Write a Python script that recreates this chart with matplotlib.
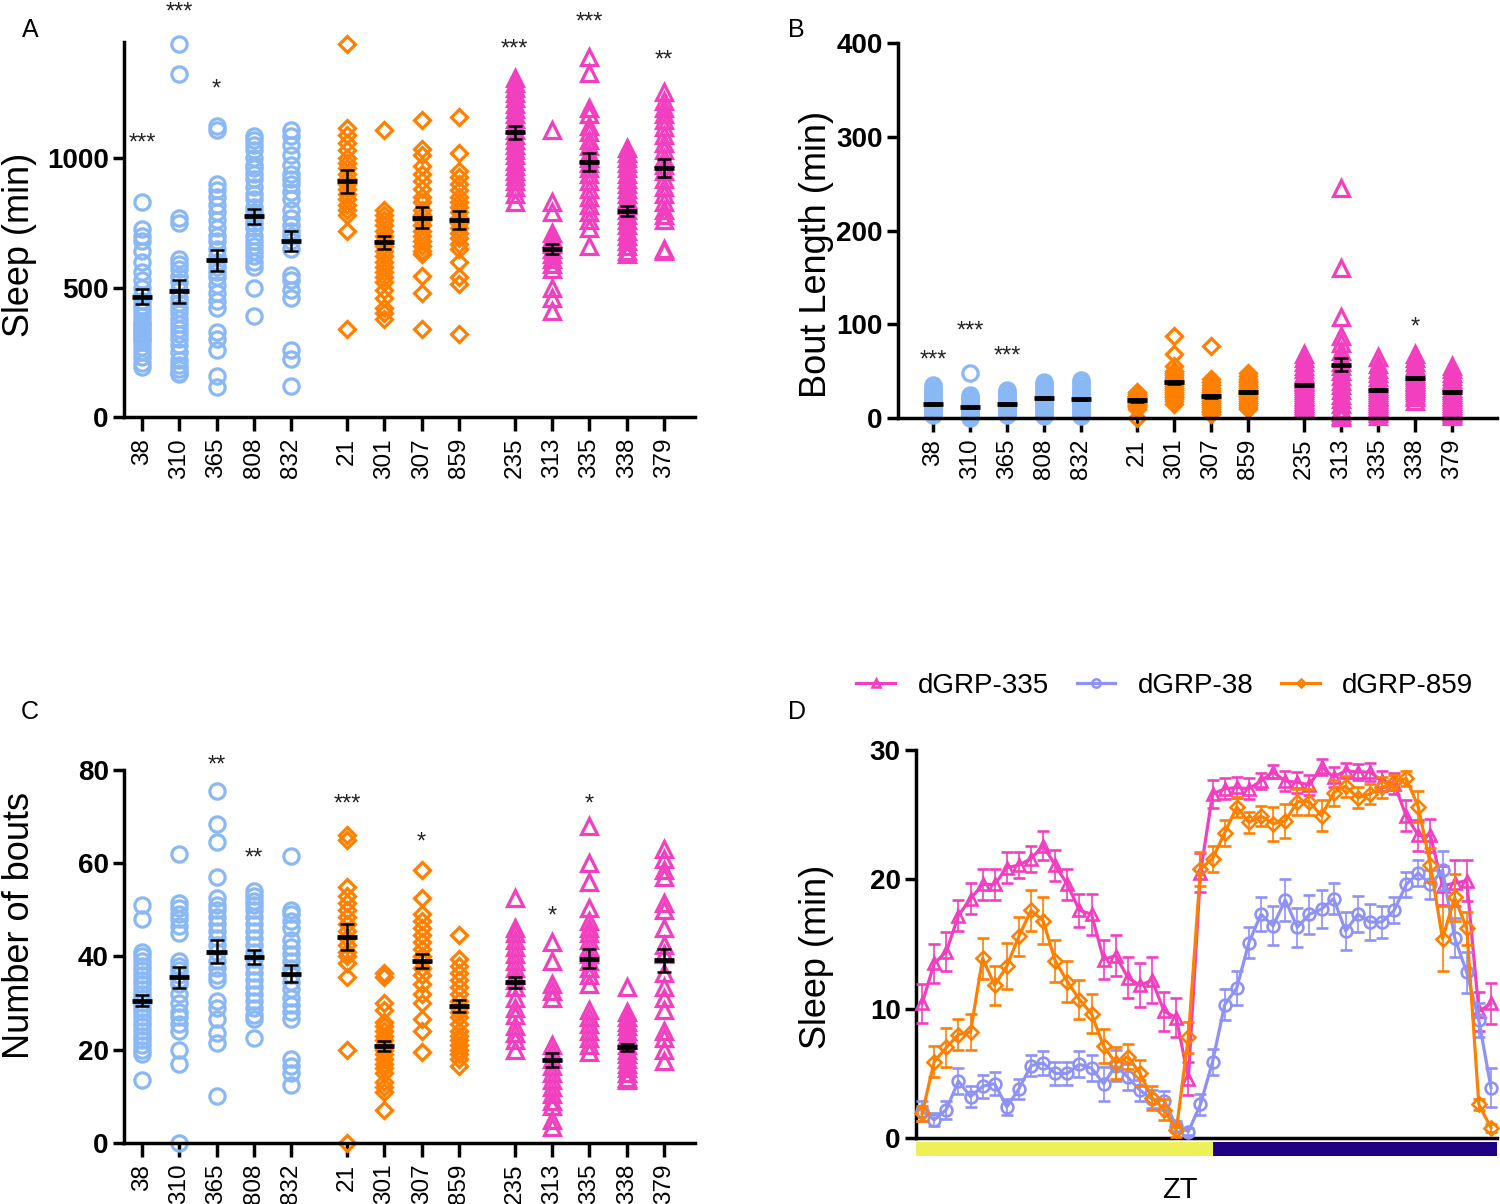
import matplotlib
matplotlib.use("Agg")
import matplotlib.pyplot as plt
import matplotlib.transforms as mtransforms
from matplotlib.lines import Line2D
from matplotlib.patches import Rectangle
import numpy as np

plt.rcParams['font.family'] = ['Liberation Sans', 'DejaVu Sans']

# ---- data ----
strains = ["38", "310", "365", "808", "832", "21", "301", "307", "859",
           "235", "313", "335", "338", "379"]
group_of = [0, 0, 0, 0, 0, 1, 1, 1, 1, 2, 2, 2, 2, 2]

# panel A : total sleep (min)
sleep_pts = [
    [830, 725, 700, 680, 640, 600, 560, 530, 500, 470, 450, 430, 410, 390, 370, 360, 350, 340, 330, 320, 310, 300, 290, 270, 250, 230, 210, 195],
    [1440, 1325, 770, 750, 610, 590, 570, 545, 520, 490, 460, 440, 420, 400, 380, 360, 340, 320, 300, 280, 250, 220, 200, 185, 170, 165],
    [1125, 1110, 900, 875, 850, 820, 790, 760, 730, 700, 680, 650, 620, 600, 580, 560, 540, 510, 480, 450, 420, 330, 300, 260, 160, 115],
    [1085, 1070, 1050, 1030, 1000, 975, 960, 940, 920, 890, 860, 840, 810, 790, 770, 750, 730, 700, 680, 660, 640, 620, 600, 580, 500, 390],
    [1110, 1085, 1050, 1010, 975, 940, 920, 900, 870, 840, 800, 770, 740, 720, 700, 680, 650, 550, 530, 490, 460, 260, 225, 120],
    [1440, 1115, 1090, 1060, 1030, 1000, 980, 960, 940, 920, 900, 880, 860, 840, 820, 800, 780, 720, 340],
    [1110, 800, 780, 760, 740, 720, 700, 680, 660, 640, 620, 600, 580, 560, 540, 520, 490, 460, 420, 400, 380],
    [1145, 1035, 1010, 970, 940, 910, 880, 850, 830, 800, 780, 760, 740, 720, 700, 680, 660, 640, 630, 545, 480, 340],
    [1160, 1020, 950, 925, 900, 875, 850, 830, 810, 790, 770, 750, 730, 710, 690, 670, 650, 600, 540, 515, 320],
    [1310, 1290, 1270, 1250, 1230, 1210, 1190, 1170, 1150, 1130, 1110, 1090, 1070, 1050, 1030, 1010, 990, 970, 950, 930, 910, 890, 860, 830],
    [1110, 830, 790, 710, 690, 670, 650, 630, 610, 590, 570, 500, 460, 410],
    [1390, 1330, 1195, 1170, 1125, 1100, 1070, 1045, 1020, 1000, 980, 960, 940, 910, 880, 850, 820, 790, 760, 730, 660],
    [1040, 1020, 1000, 980, 960, 940, 920, 900, 880, 860, 840, 820, 800, 780, 760, 740, 720, 700, 680, 660, 640, 630],
    [1255, 1220, 1195, 1170, 1145, 1120, 1090, 1060, 1030, 1000, 975, 950, 920, 890, 860, 830, 800, 780, 760, 650, 640],
]
sleep_mean = [465, 485, 605, 775, 680, 910, 675, 770, 760, 1100, 650, 985, 795, 960]
sleep_sem = [30, 45, 40, 30, 40, 45, 25, 40, 35, 25, 20, 35, 20, 35]
sleep_stars = {"38": ("***", 1055), "310": ("***", 1560), "365": ("*", 1265),
               "235": ("***", 1420), "335": ("***", 1525), "379": ("**", 1375)}

# panel B : bout length (min)
bout_pts = [
    [35, 32, 30, 28, 26, 24, 22, 20, 18, 17, 16, 15, 14, 13, 12, 11, 10, 9, 8, 7, 6, 5, 4, 3],
    [48, 25, 22, 20, 18, 16, 14, 13, 12, 11, 10, 9, 8, 7, 6, 5, 4, 3, 2, 0],
    [30, 28, 26, 24, 22, 20, 18, 17, 16, 15, 14, 13, 12, 11, 10, 9, 8, 7, 6, 5, 4, 3],
    [38, 36, 34, 32, 30, 28, 26, 24, 22, 21, 20, 19, 18, 17, 16, 15, 14, 12, 10, 8, 6, 4, 2],
    [41, 38, 35, 32, 30, 28, 26, 24, 22, 21, 20, 19, 18, 17, 16, 15, 14, 12, 10, 8, 6, 4, 2],
    [28, 26, 24, 23, 22, 21, 20, 19, 18, 17, 16, 15, 14, 13, 12, 10, 0],
    [87, 68, 55, 50, 48, 46, 44, 42, 40, 38, 36, 34, 32, 30, 28, 26, 24, 22, 20, 18, 15],
    [77, 42, 38, 35, 32, 30, 28, 26, 24, 22, 20, 18, 16, 14, 12, 10, 8, 6, 4],
    [48, 45, 42, 40, 38, 36, 34, 32, 30, 28, 26, 24, 22, 20, 18, 16, 14, 12, 10],
    [68, 64, 60, 56, 52, 48, 45, 42, 40, 38, 36, 34, 32, 30, 28, 26, 24, 22, 20, 18, 16, 14, 12],
    [245, 160, 108, 88, 80, 72, 65, 60, 55, 50, 45, 40, 35, 30, 25, 20, 15, 10, 6, 3, 1],
    [65, 58, 52, 48, 44, 40, 36, 34, 32, 30, 28, 26, 24, 22, 20, 18, 16, 14, 12, 10, 8, 5, 2],
    [68, 64, 60, 56, 52, 50, 48, 46, 44, 42, 40, 38, 36, 34, 32, 30, 28, 25, 22, 18],
    [55, 52, 48, 45, 42, 40, 38, 35, 32, 30, 28, 26, 24, 22, 20, 18, 16, 14, 12, 10, 8, 6, 4, 2],
]
bout_mean = [15, 12, 15, 21, 20, 19, 38, 23, 28, 35, 57, 30, 43, 28]
bout_sem = [1, 1, 1, 1, 1, 1.5, 2, 2, 1.2, 1, 7, 1.2, 1.2, 1]
bout_stars = {"38": ("***", 61), "310": ("***", 92), "365": ("***", 66), "338": ("*", 97)}

# panel C : number of bouts
nbout_pts = [
    [51, 48, 41, 40, 39, 38, 37, 36, 35, 34, 33, 32, 31, 30, 29, 28, 27, 26, 25, 24, 23, 22, 21, 20, 19, 13.5],
    [62, 51.5, 50.5, 49, 48, 46.5, 45, 39, 38, 37, 36, 35, 34, 32, 30, 28, 27, 25.5, 24, 20, 17, 0],
    [75.5, 68.5, 64.5, 57, 52.5, 51, 50, 48.5, 47, 45.5, 44, 42.5, 41, 39, 37.5, 36, 35, 30.5, 29, 26.5, 23.5, 21.5, 10],
    [54, 53, 52, 51, 50, 48.5, 47, 45.5, 44, 42.5, 41, 39.5, 38, 36.5, 35, 33.5, 32, 30.5, 29, 27.5, 26.5, 22.5],
    [61.5, 50, 49, 47.5, 46, 43.5, 42, 40.5, 39, 37.5, 36, 34.5, 33, 31, 29.5, 28, 26.5, 18, 16.5, 15, 12.5],
    [66, 65, 55, 53, 51.5, 50, 48.5, 47, 45.5, 44, 42.5, 41, 40, 38.5, 35.5, 20, 0],
    [36.5, 35.5, 30, 28.5, 26, 25, 24, 23, 22, 21, 20, 19, 18, 17, 16, 15, 13, 12, 11, 7],
    [58.5, 52.5, 49, 47.5, 46, 44.5, 43, 41.5, 40, 39, 37.5, 36, 34, 32, 30, 26.5, 24, 19.5],
    [44.5, 39.5, 38, 36.5, 35, 33.5, 32, 30.5, 29, 28, 27, 25.5, 24, 23, 22, 21, 20, 19, 18, 16.5],
    [52.5, 46, 45, 43.5, 42, 40.5, 39, 37.5, 36, 35, 33.5, 31, 29, 27.5, 25, 23.5, 22, 20],
    [43, 39, 34, 32.5, 31, 21, 19.5, 18, 16.5, 15, 13.5, 12, 10.5, 9, 8, 5, 3.5],
    [68, 60, 56, 50.5, 47.5, 46, 45, 43.5, 42, 40.5, 39, 37.5, 36, 34, 28.5, 27, 25.5, 24, 22.5, 21, 19.5],
    [33.5, 28, 27, 26, 25, 24, 23, 22, 21, 20, 19, 18, 17, 16, 15, 14, 13.5],
    [63, 61, 58.5, 57, 51.5, 50, 46, 42.5, 40.5, 36.5, 33.5, 31, 28.5, 24, 22.5, 20, 17.5],
]
nbout_mean = [30.5, 35.5, 41, 39.8, 36.3, 44.2, 20.8, 39, 29.3, 34.5, 17.8, 39.5, 20.5, 39.2]
nbout_sem = [1.2, 2.2, 2.5, 1.5, 1.8, 2.8, 1.0, 1.5, 1.3, 1.2, 1.5, 2.0, 0.8, 2.5]
nbout_stars = {"365": ("**", 81), "808": ("**", 61), "21": ("***", 72.5),
               "307": ("*", 64.5), "313": ("*", 48.5), "335": ("*", 72.5)}

# panel D : sleep profile, 30 min bins
zt = np.arange(0.25, 24, 0.5)
prof_335 = [10.4, 13.5, 14.4, 17.2, 18.5, 19.6, 19.6, 20.9, 21.1, 21.6, 22.6, 21.1, 19.6, 17.6, 17.3, 13.8,
            14.1, 12.4, 11.8, 12.2, 9.8, 9.3, 4.6, 20.5, 26.6, 27.0, 27.1, 27.0, 27.6, 28.3, 27.6, 27.5,
            27.3, 28.7, 27.9, 28.4, 28.3, 28.3, 27.6, 27.4, 24.9, 23.4, 23.4, 19.5, 19.7, 19.9, 9.8, 10.4]
sem_335 = [1.5, 1.5, 1.5, 1.2, 1.2, 1.2, 1.2, 1.2, 1.0, 1.0, 1.1, 1.2, 1.2, 1.3, 1.6, 1.5,
           1.6, 1.6, 1.7, 1.8, 1.5, 1.5, 1.3, 1.5, 1.1, 0.8, 0.8, 0.8, 0.6, 0.5, 0.8, 0.8,
           0.8, 0.6, 0.8, 0.6, 0.6, 0.7, 0.8, 0.8, 1.2, 1.2, 1.3, 1.5, 1.8, 1.6, 1.5, 1.6]
prof_38 = [2.1, 1.4, 2.2, 4.4, 3.2, 4.0, 4.2, 2.4, 3.8, 5.6, 5.8, 5.0, 5.0, 5.7, 5.4, 4.2,
           5.6, 4.7, 3.7, 3.0, 2.9, 0.9, 0.5, 2.6, 5.9, 10.3, 11.6, 15.1, 17.3, 16.4, 18.4, 16.3,
           17.3, 17.7, 18.5, 16.0, 17.3, 16.7, 16.7, 17.6, 19.6, 20.5, 19.6, 20.7, 15.5, 12.8, 9.1, 3.9]
sem_38 = [0.8, 0.5, 0.7, 1.0, 0.8, 0.9, 0.9, 0.6, 0.8, 0.8, 0.9, 0.9, 0.9, 1.0, 1.0, 1.3,
          1.2, 1.0, 0.8, 0.7, 0.7, 0.4, 0.3, 0.8, 1.0, 1.2, 1.3, 1.2, 1.3, 1.5, 1.6, 1.5,
          1.5, 1.5, 1.2, 1.5, 1.4, 1.4, 1.2, 1.0, 1.0, 1.0, 1.1, 1.5, 1.5, 1.6, 1.3, 1.5]
prof_859 = [1.9, 5.9, 7.0, 8.0, 8.2, 13.9, 11.8, 13.3, 15.6, 17.6, 16.8, 13.7, 12.1, 10.7, 9.6, 7.1,
            5.8, 6.3, 5.0, 3.1, 2.2, 0.6, 7.8, 20.8, 21.6, 23.6, 25.6, 24.4, 24.9, 24.3, 24.5, 26.0,
            26.0, 24.9, 26.7, 27.2, 26.3, 26.6, 27.1, 27.5, 27.8, 25.6, 21.1, 15.4, 18.6, 16.2, 2.6, 0.8]
sem_859 = [0.6, 1.2, 1.5, 1.2, 1.4, 1.6, 1.5, 1.8, 1.5, 1.6, 1.8, 1.6, 1.6, 1.5, 1.5, 1.3,
           1.2, 1.0, 1.0, 0.9, 0.8, 0.5, 1.2, 1.3, 1.0, 1.0, 0.8, 0.8, 0.8, 1.3, 1.3, 1.0,
           1.0, 1.2, 1.0, 0.8, 0.8, 0.8, 0.8, 0.6, 0.6, 1.2, 1.3, 2.5, 1.8, 1.3, 0.4, 0.3]

# ---- style ----
col_blue = "#8ab8f5"
col_orange = "#ff8000"
col_pink = "#f23fbf"
col_lav = "#8f92f5"
grp_color = [col_blue, col_orange, col_pink]
grp_marker = ["o", "D", "^"]
grp_ms = [11, 8.5, 11]

# x positions: 3 groups separated by a gap
xpos = []
x = 0.0
for i, g in enumerate(group_of):
    if i > 0 and g != group_of[i - 1]:
        x += 0.5
    xpos.append(x)
    x += 1.0

fig = plt.figure(figsize=(15, 12.04), dpi=100)


def strip_panel(rect, pts, means, sems, ylim, yticks, ylabel, stars, xlim, label_x, label_y):
    ax = fig.add_axes(rect)
    for i, vals in enumerate(pts):
        g = group_of[i]
        ax.plot([xpos[i]] * len(vals), vals, linestyle="none", marker=grp_marker[g],
                mfc="none", mec=grp_color[g], mew=2.3, ms=grp_ms[g], clip_on=False, zorder=2)
    for i in range(len(strains)):
        ax.plot([xpos[i] - 0.27, xpos[i] + 0.27], [means[i], means[i]], color="k", lw=3.4,
                solid_capstyle="butt", zorder=5)
        ax.errorbar(xpos[i], means[i], yerr=sems[i], color="k", capsize=5, capthick=1.8,
                    elinewidth=1.8, zorder=5)
        if strains[i] in stars:
            s, yv = stars[strains[i]]
            ax.text(xpos[i], yv, s, ha="center", va="center", fontsize=17, clip_on=False,
                    color="#222222")
    ax.set_xlim(*xlim)
    ax.set_ylim(*ylim)
    ax.set_xticks(xpos)
    ax.set_xticklabels(strains, rotation=90, fontsize=17.5)
    ax.set_yticks(yticks)
    ax.set_yticklabels([str(t) for t in yticks], fontsize=20, fontweight="bold")
    ax.tick_params(axis="x", length=10, width=2.5, pad=5)
    ax.tick_params(axis="y", length=8, width=2.5, pad=3)
    for sp in ["top", "right"]:
        ax.spines[sp].set_visible(False)
    for sp in ["left", "bottom"]:
        ax.spines[sp].set_linewidth(2.5)
    ax.set_ylabel(ylabel, fontsize=26)
    ax.yaxis.set_label_coords(label_x, label_y)
    return ax


strip_panel([0.0827, 0.6536, 0.3806, 0.3115], sleep_pts, sleep_mean, sleep_sem,
            (0, 1448), [0, 500, 1000], "Sleep (min)", sleep_stars, (-0.48, 14.83), -0.152, 0.46)
strip_panel([0.5987, 0.6528, 0.3993, 0.3115], bout_pts, bout_mean, bout_sem,
            (0, 400), [0, 100, 200, 300, 400], "Bout Length (min)", bout_stars, (-0.94, 15.2), -0.107, 0.435)
strip_panel([0.0827, 0.0507, 0.3806, 0.3098], nbout_pts, nbout_mean, nbout_sem,
            (0, 80), [0, 20, 40, 60, 80], "Number of bouts", nbout_stars, (-0.48, 14.83), -0.152, 0.584)

# ---- panel D ----
axd = fig.add_axes([0.6107, 0.0548, 0.3873, 0.3223])
series = [
    ("dGRP-335", prof_335, sem_335, col_pink, "^", 8.5),
    ("dGRP-38", prof_38, sem_38, col_lav, "o", 8.5),
    ("dGRP-859", prof_859, sem_859, col_orange, "D", 7),
]
handles = []
for k, (name, vals, err, c, m, ms) in enumerate(series):
    axd.errorbar(zt, vals, yerr=err, color=c, marker=m, mfc="none", mec=c, mew=1.9, ms=ms,
                 lw=2.3, capsize=4, capthick=1.2, elinewidth=1.2, clip_on=False, zorder=3 + k)
    handles.append(Line2D([0], [0], color=c, marker=m, mfc="none", mec=c, mew=1.8, ms=ms - 2.5, lw=2.3))

axd.set_xlim(0, 24)
axd.set_ylim(0, 30)
axd.set_xticks([])
axd.set_yticks([0, 10, 20, 30])
axd.set_yticklabels(["0", "10", "20", "30"], fontsize=20, fontweight="bold")
axd.tick_params(axis="y", length=8, width=2.5, pad=3)
for sp in ["top", "right"]:
    axd.spines[sp].set_visible(False)
for sp in ["left", "bottom"]:
    axd.spines[sp].set_linewidth(2.5)
axd.set_ylabel("Sleep (min)", fontsize=26)
axd.yaxis.set_label_coords(-0.142, 0.466)

# light / dark bar under the axis
lights_off = 12.25
trans = mtransforms.blended_transform_factory(axd.transData, axd.transAxes)
axd.add_patch(Rectangle((0, -0.047), lights_off, 0.038, transform=trans, facecolor="#eef05a",
                        edgecolor="none", clip_on=False))
axd.add_patch(Rectangle((lights_off, -0.047), 24 - lights_off, 0.038, transform=trans,
                        facecolor="#1f0082", edgecolor="none", clip_on=False))

fig.legend(handles, [s[0] for s in series], loc="center", bbox_to_anchor=(1165 / 1500, 1 - 686 / 1204),
           ncol=3, frameon=False, fontsize=20, handlelength=1.4, columnspacing=1.0, handletextpad=0.8)

fig.text(1180 / 1500, 1 - 1190 / 1204, "ZT", fontsize=21, ha="center", va="center")

# panel letters
for lab, px, py in [("A", 30, 30), ("B", 796, 30), ("C", 30, 712), ("D", 797, 712)]:
    fig.text(px / 1500, 1 - py / 1204, lab, fontsize=18, ha="center", va="center")

fig.savefig("out.png", dpi=100)
